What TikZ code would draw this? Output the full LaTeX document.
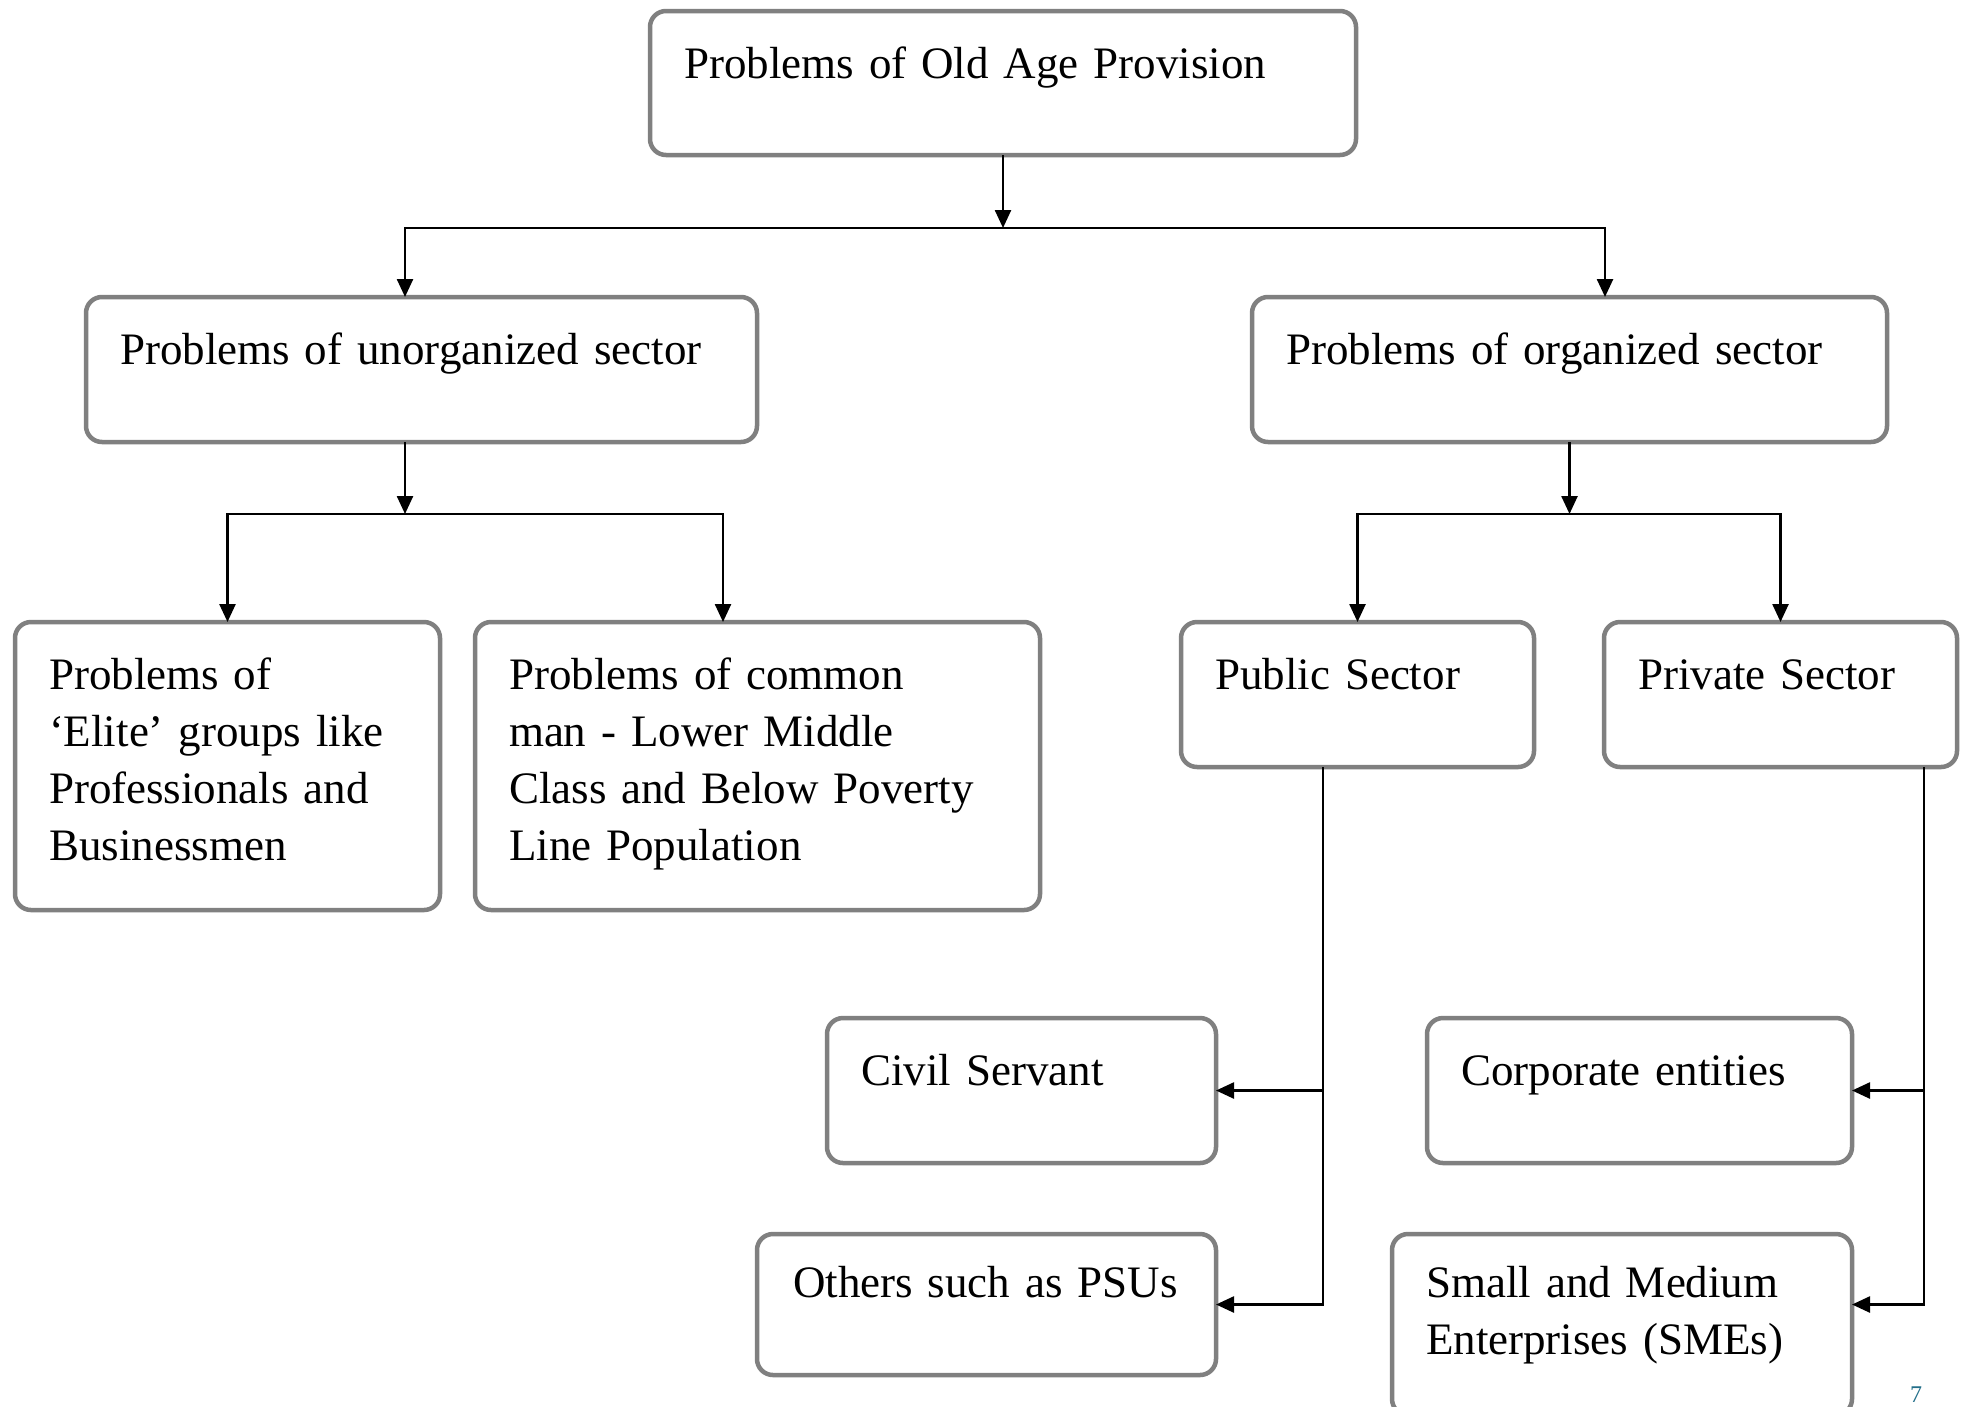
\documentclass[tikz,border=0pt]{standalone}
\usepackage{fontspec}
\setmainfont{Liberation Serif}
\usetikzlibrary{arrows.meta}
\definecolor{boxgray}{HTML}{808080}
\definecolor{pageteal}{HTML}{236F8A}

\begin{document}
\begin{tikzpicture}[
  x=1pt, y=-1pt,
  font=\fontsize{45pt}{57pt}\selectfont,
  box/.style={draw=boxgray, line width=4.5pt, rounded corners=16pt, anchor=north west,
    outer sep=0pt, align=left, inner xsep=34pt, inner ysep=0pt,
    text height=67pt, text depth=78pt},
  arrow/.style={-{Triangle[length=18pt,width=16pt]}, line width=2.5pt, draw=black}
]
\useasboundingbox[fill=white] (0,0) rectangle (1965,1406);
\clip (0,0) rectangle (1965,1406);

\node[box, text width=638pt, text depth=77pt] (top) at (650,11)
  {Problems of Old Age Provision};

\node[box, text width=603pt] (unorg) at (86,297) {Problems of unorganized sector};
\node[box, text width=567pt] (org) at (1252,297) {Problems of organized sector};

\node[box, text width=357pt, text depth=221pt] (elite) at (15,622)
  {Problems of\\`Elite' groups like\\Professionals and\\Businessmen};
\node[box, text width=497pt, text depth=221pt] (common) at (475,622)
  {Problems of common\\man - Lower Middle\\Class and Below Poverty\\Line Population};

\node[box, text width=285pt] (public) at (1181,622) {Public Sector};
\node[box, text width=285pt] (private) at (1604,622) {Private Sector};

\node[box, text width=321pt] (civil) at (827,1018) {Civil Servant};
\node[box, inner xsep=30pt, text width=399pt, text height=63pt, text depth=78pt] (psu)
  at (757,1234) {\hspace*{6pt}Others such as PSUs};
\node[box, text width=357pt] (corp) at (1427,1018) {Corporate entities};
\node[box, text width=392pt, text height=63pt, text depth=118pt] (sme) at (1392,1234)
  {Small and Medium\\Enterprises (SMEs)};

\node[font=\fontsize{24pt}{28pt}\selectfont, text=pageteal, anchor=north west,
  inner sep=0pt] (pagenum) at (1910,1387) {7};

% junctions
\coordinate (j0) at (1004,228);
\coordinate (j1) at (405,514);
\coordinate (j2) at (1570,514);

\draw[arrow] (top.south) -- (top.south |- j0);
\draw[arrow] (j0) -| ([xshift=-16.5pt]unorg.north);
\draw[arrow] (j0) -| ([xshift=35.5pt]org.north);

\draw[arrow] ([xshift=-16.5pt]unorg.south) -- (j1);
\draw[arrow] (j1) -| (elite.north);
\draw[arrow] (j1) -| ([xshift=-34.5pt]common.north);

\draw[arrow] (org.south) -- (org.south |- j2);
\draw[arrow] (j2) -| (public.north);
\draw[arrow] (j2) -| (private.north);

\draw[arrow] ([xshift=-34.5pt]public.south) |- (civil.east);
\draw[arrow] ([xshift=-34.5pt]public.south) |- (psu.east);
\draw[arrow] ([xshift=143.5pt]private.south) |- (corp.east);
\draw[arrow] ([xshift=143.5pt]private.south) |- (sme.east |- psu.east);

\end{tikzpicture}
\end{document}
